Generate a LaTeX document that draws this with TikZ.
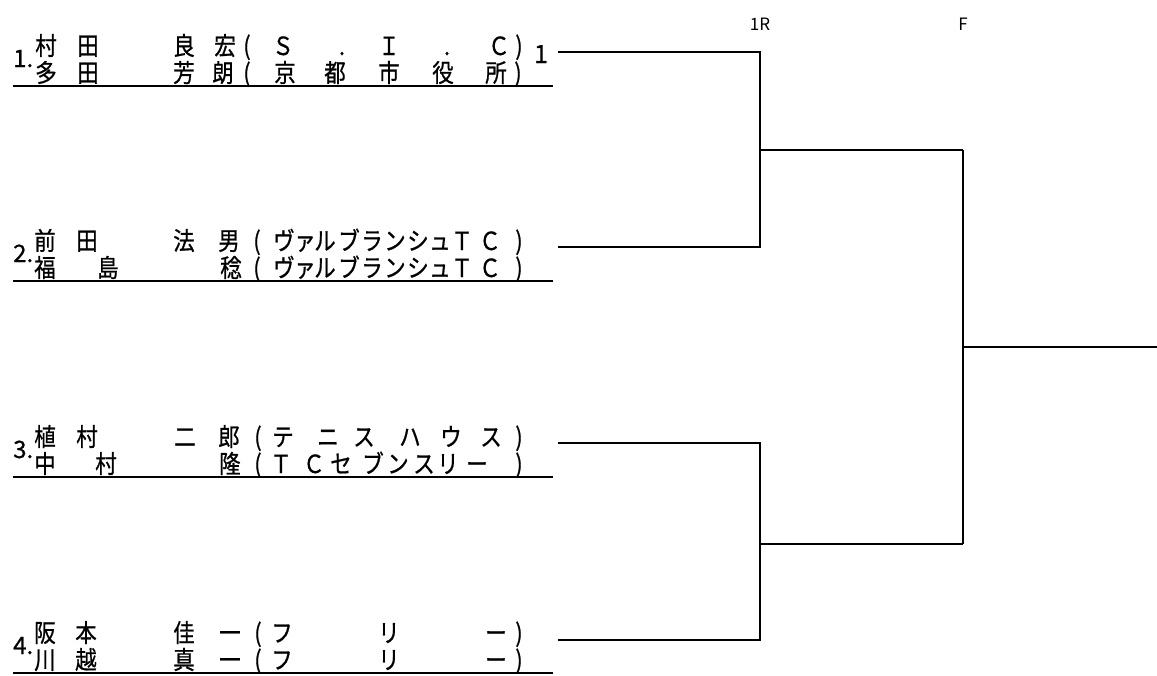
\documentclass[tikz,border=0pt]{standalone}
\usepackage{graphicx}
\usepackage{fontspec}
\newfontfamily\jp[FakeBold=0.8]{Noto Sans CJK JP}
\newfontfamily\jpl{Noto Sans CJK JP}
\newcommand\jline[3]{%
  \foreach \x/\c in {#3} {\node[jch] (#1-\x) at (\x,#2) {\scalebox{0.86}[1]{\c}};}}
\begin{document}
\begin{tikzpicture}[x=1pt,y=-1pt,
  wire/.style={line width=2.2pt},
  uline/.style={line width=2.2pt},
  jch/.style={font=\jp\fontsize{25}{25}\selectfont, anchor=base, inner sep=0pt},
  num/.style={font=\jp\fontsize{24}{24}\selectfont, anchor=base west, inner sep=0pt},
  hdr/.style={font=\jpl\fontsize{17}{17}\selectfont, anchor=base, inner sep=0pt}]
\useasboundingbox (0,0) rectangle (1157,675);

% headers
\node[hdr] (h1) at (760,30) {1R};
\node[hdr] (h2) at (963,30) {F};

% entry 1
\node[num] (n1) at (13,67) {1.};
\jline{r1a}{55}{46/村,88/田,184/良,225/宏,247/{(},283/Ｓ,342/.,389/Ｉ,447/.,499/Ｃ,519/{)}}
\jline{r1b}{82}{46/多,88/田,184/芳,223/朗,247/{(},285/京,335/都,389/市,443/役,496/所,518/{)}}
\node[jch] (seed1) at (541,63) {1};
\draw[uline] (13,86) -- (553,86);

% entry 2
\node[num] (n2) at (13,262) {2.};
\jline{r2a}{250}{45/前,87/田,184/法,229/男,257/{(},284/ヴ,305/ァ,325/ル,349/ブ,372/ラ,395/ン,418/シ,440/ュ,462/Ｔ,490/Ｃ,519/{)}}
\jline{r2b}{277}{45/福,108/島,231/稔,257/{(},284/ヴ,305/ァ,325/ル,349/ブ,372/ラ,395/ン,418/シ,440/ュ,462/Ｔ,490/Ｃ,519/{)}}
\draw[uline] (13,281) -- (553,281);

% entry 3
\node[num] (n3) at (13,458) {3.};
\jline{r3a}{446}{45/植,87/村,185/二,229/郎,258/{(},283/テ,328/ニ,364/ス,410/ハ,451/ウ,491/ス,519/{)}}
\jline{r3b}{473}{45/中,106/村,230/隆,258/{(},281/Ｔ,314/Ｃ,341/セ,373/ブ,398/ン,424/ス,448/リ,477/ー,519/{)}}
\draw[uline] (13,477) -- (553,477);

% entry 4
\node[num] (n4) at (13,654) {4.};
\jline{r4a}{642}{45/阪,86/本,184/佳,230/一,258/{(},282/フ,389/リ,496/ー,519/{)}}
\jline{r4b}{669}{45/川,86/越,184/真,230/一,258/{(},282/フ,389/リ,496/ー,519/{)}}
\draw[uline] (13,673) -- (553,673);

% bracket
\coordinate (e1) at (558,52);
\coordinate (e2) at (558,247);
\coordinate (e3) at (558,443);
\coordinate (e4) at (558,640);
\coordinate (m1) at (760,150);
\coordinate (m2) at (760,544);
\coordinate (k1) at (963,150);
\coordinate (k2) at (963,544);
\coordinate (f) at (963,347);
\coordinate (w) at (1157,347);

\draw[wire] (e1) -| (m1);
\draw[wire] (e2) -| (m1);
\draw[wire] (e3) -| (m2);
\draw[wire] (e4) -| (m2);
\draw[wire] (m1) -- (k1);
\draw[wire] (m2) -- (k2);
\draw[wire] (k1) -| (f);
\draw[wire] (k2) -| (f);
\draw[wire] (f) -- (w);
\end{tikzpicture}
\end{document}
